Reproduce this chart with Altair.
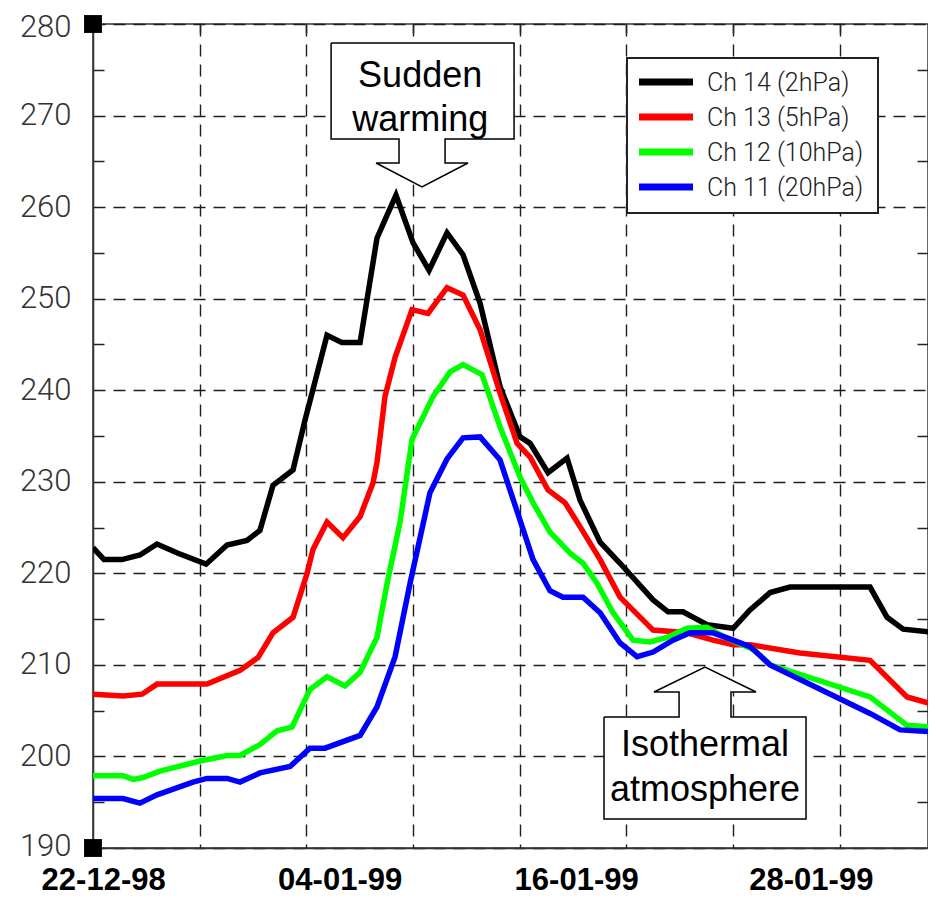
import altair as alt
import pandas as pd

# ---------------- data ----------------
series_names = ["Ch 14 (2hPa)", "Ch 13 (5hPa)", "Ch 12 (10hPa)", "Ch 11 (20hPa)"]
series_colors = ["#000000", "#ff0000", "#00ff00", "#0000ff"]

# x = days since 22-12-98, y = brightness temperature (K)
ch14_day = [0.00, 0.62, 1.63, 2.64, 3.60, 4.78, 6.36, 7.54, 8.66, 9.39,
            10.12, 11.25, 11.92, 13.16, 14.00, 15.02, 15.97, 16.42, 17.04, 18.00,
            18.90, 19.91, 20.81, 21.77, 22.89, 24.02, 24.58, 25.59, 26.66, 27.39,
            28.52, 29.64, 31.50, 32.34, 33.18, 34.53, 36.00, 36.95, 38.08, 39.20,
            43.70, 44.66, 45.56, 47.08, 47.41]
ch14_temp = [222.8, 221.5, 221.5, 222.0, 223.2, 222.2, 221.0, 223.1, 223.6, 224.7,
             229.6, 231.3, 236.7, 246.0, 245.2, 245.2, 256.6, 258.6, 261.3, 256.1,
             253.1, 257.2, 254.8, 249.5, 240.4, 234.9, 234.2, 231.0, 232.6, 228.0,
             223.4, 221.1, 217.1, 215.8, 215.8, 214.4, 214.0, 216.0, 217.9, 218.5,
             218.5, 215.2, 213.9, 213.6, 213.3]

ch13_day = [0.00, 1.69, 2.76, 3.60, 6.41, 8.27, 9.28, 10.12, 11.25, 12.04,
            12.37, 13.16, 14.06, 15.02, 15.75, 15.97, 16.42, 16.99, 17.94, 18.84,
            19.91, 20.81, 21.77, 22.89, 23.85, 24.58, 25.59, 26.55, 27.39, 28.52,
            29.64, 31.50, 33.41, 34.87, 36.00, 36.95, 39.76, 43.70, 45.78, 47.41]
ch13_temp = [206.8, 206.6, 206.8, 207.9, 207.9, 209.4, 210.8, 213.5, 215.2, 220.0,
             222.6, 225.6, 223.9, 226.2, 229.9, 232.1, 239.3, 243.6, 248.8, 248.4,
             251.2, 250.4, 246.6, 239.7, 234.2, 232.7, 229.1, 227.7, 225.1, 221.5,
             217.4, 213.8, 213.5, 212.7, 212.2, 212.2, 211.3, 210.5, 206.5, 205.6]

ch12_day = [0.00, 1.69, 2.25, 2.81, 3.77, 6.02, 7.54, 8.27, 9.39, 10.35,
            11.19, 12.20, 13.16, 14.17, 15.02, 15.97, 16.54, 17.27, 17.94, 19.12,
            20.08, 20.81, 21.88, 22.89, 24.02, 24.75, 25.70, 26.83, 27.56, 28.35,
            29.25, 30.37, 31.33, 32.28, 33.41, 34.53, 35.66, 37.23, 38.08, 43.70,
            45.78, 47.41]
ch12_temp = [197.9, 197.9, 197.5, 197.7, 198.4, 199.5, 200.1, 200.1, 201.3, 202.8,
             203.2, 207.3, 208.7, 207.7, 209.2, 213.0, 218.9, 225.6, 234.6, 239.3,
             242.0, 242.8, 241.7, 236.0, 230.5, 227.7, 224.5, 222.2, 221.1, 218.9,
             215.7, 212.7, 212.5, 213.0, 214.0, 214.1, 212.9, 211.6, 210.0, 206.5,
             203.4, 203.2]

ch11_day = [0.00, 1.69, 2.64, 3.60, 5.62, 6.41, 7.54, 8.27, 9.39, 11.08,
            12.20, 13.05, 15.02, 15.97, 16.99, 17.83, 18.95, 19.91, 20.81, 21.77,
            22.89, 24.75, 25.70, 26.43, 27.56, 28.52, 29.64, 30.60, 31.50, 32.62,
            33.58, 34.87, 36.00, 36.95, 38.08, 43.70, 45.39, 47.24, 47.41]
ch11_temp = [195.4, 195.4, 194.9, 195.8, 197.2, 197.6, 197.6, 197.2, 198.2, 198.9,
             200.9, 200.9, 202.3, 205.4, 210.9, 218.9, 228.8, 232.5, 234.8, 234.9,
             232.4, 221.5, 218.1, 217.4, 217.4, 215.7, 212.4, 210.9, 211.4, 212.7,
             213.5, 213.5, 212.7, 212.0, 210.0, 204.7, 202.9, 202.7, 203.0]

x_label_pos = [0.6, 13.9, 27.2, 40.4]
x_label_text = ["22-12-98", "04-01-99", "16-01-99", "28-01-99"]
x_grid_values = [6, 12, 18, 24, 30, 36, 42]
y_tick_values = list(range(190, 281, 5))
y_minor_values = list(range(195, 280, 10))

# annotation callouts (outline polygons in data units) and their texts
warm_day = [13.39, 23.68, 23.68, 19.80, 19.80, 21.09, 18.50, 15.92, 17.21, 17.21, 13.39, 13.39]
warm_temp = [277.92, 277.92, 267.44, 267.44, 264.82, 264.82, 262.20, 264.82, 264.82, 267.44, 267.44, 277.92]
iso_day = [28.74, 32.96, 32.96, 31.55, 34.42, 37.29, 35.88, 35.88, 40.10, 40.10, 28.74, 28.74]
iso_temp = [204.31, 204.31, 207.04, 207.04, 209.77, 207.04, 207.04, 204.31, 204.31, 193.17, 193.17, 204.31]
note_text = ["Sudden", "warming", "Isothermal", "atmosphere"]
note_day = [18.4, 18.4, 34.42, 34.42]
note_temp = [273.1, 268.3, 200.05, 195.14]

corner_day = [0, 0]
corner_temp = [280, 190]

# ---------------- tables ----------------
rows = []
for name, days, temps in zip(series_names,
                             [ch14_day, ch13_day, ch12_day, ch11_day],
                             [ch14_temp, ch13_temp, ch12_temp, ch11_temp]):
    for d, t in zip(days, temps):
        rows.append({"series": name, "day": d, "temp": t})
df = pd.DataFrame(rows)

poly_rows = []
for key, days, temps in [("warm", warm_day, warm_temp), ("iso", iso_day, iso_temp)]:
    for i, (d, t) in enumerate(zip(days, temps)):
        poly_rows.append({"shape": key, "i": i, "day": d, "temp": t})
poly_df = pd.DataFrame(poly_rows)

notes_df = pd.DataFrame({"text": note_text, "day": note_day, "temp": note_temp})
xlab_df = pd.DataFrame({"pos": x_label_pos, "label": x_label_text})
legend_df = pd.DataFrame({"name": series_names, "color": series_colors,
                          "row": list(range(len(series_names)))})
corner_df = pd.DataFrame({"day": corner_day, "temp": corner_temp})
box_df = pd.DataFrame({"a": [0]})

# ---------------- chart ----------------
W, H = 835, 824
THIN = "Roboto, Liberation Sans, sans-serif"
SANS = "Liberation Sans, Arial, sans-serif"
GRID = "#1e1e1e"

xscale = alt.Scale(domain=[0, 46.96], nice=False, zero=False)
yscale = alt.Scale(domain=[190, 280], nice=False, zero=False)

x_axis = alt.Axis(values=x_grid_values, grid=True, gridDash=[12, 8], gridColor=GRID,
                  gridWidth=1.4, labels=False, ticks=False, domainColor="#333",
                  domainWidth=1.5, title=None)
y_axis = alt.Axis(values=y_tick_values, title=None, grid=True, gridDash=[12, 8],
                  gridColor=GRID, gridWidth=1.4,
                  gridOpacity={"condition": {"test": "datum.value % 10 == 0", "value": 1}, "value": 0},
                  tickOpacity={"condition": {"test": "datum.value % 10 == 0", "value": 0}, "value": 1},
                  tickSize={"expr": "-11"}, tickColor="#222", tickWidth=1.5,
                  labelExpr="datum.value % 10 == 0 ? datum.label : ''",
                  labelOffset={"condition": [{"test": "datum.value == 280", "value": 3},
                                             {"test": "datum.value == 190", "value": -2}],
                               "value": 0},
                  labelFont=THIN, labelFontWeight=300, labelFontSize=31, labelColor="#333",
                  labelPadding=33, labelOverlap=False, domainColor="#333", domainWidth=1.5)

lines = alt.Chart(df).mark_line(strokeWidth=5.5, clip=True).encode(
    x=alt.X("day:Q", scale=xscale, axis=x_axis),
    y=alt.Y("temp:Q", scale=yscale, axis=y_axis),
    color=alt.Color("series:N", scale=alt.Scale(domain=series_names, range=series_colors),
                    legend=None),
)

callouts = alt.Chart(poly_df).mark_line(fill="white", stroke="black", strokeWidth=1.5,
                                        strokeJoin="miter").encode(
    x=alt.X("day:Q", scale=xscale, axis=None),
    y=alt.Y("temp:Q", scale=yscale, axis=None),
    detail="shape:N",
    order="i:Q",
)

notes = alt.Chart(notes_df).mark_text(font=SANS, fontSize=36, color="black",
                                      align="center", baseline="alphabetic").encode(
    x=alt.X("day:Q", scale=xscale, axis=None),
    y=alt.Y("temp:Q", scale=yscale, axis=None),
    text="text:N",
)

legend_box = alt.Chart(box_df).mark_rect(fill="white", stroke="#222", strokeWidth=2).encode(
    x=alt.value(534), x2=alt.value(785), y=alt.value(34), y2=alt.value(189))

legend_sym = alt.Chart(legend_df).transform_calculate(
    py="58 + 35 * datum.row").mark_rule(strokeWidth=7).encode(
    x=alt.value(546), x2=alt.value(600),
    y=alt.Y("py:Q", scale=None, axis=None),
    color=alt.Color("color:N", scale=None, legend=None),
)

legend_lab = alt.Chart(legend_df).transform_calculate(
    py="59 + 35 * datum.row").mark_text(font=THIN, fontWeight=300, fontSize=25,
                                         color="#222", align="left",
                                         baseline="middle").encode(
    x=alt.value(614),
    y=alt.Y("py:Q", scale=None, axis=None),
    text="name:N",
)

corners = alt.Chart(corner_df).mark_square(size=320, color="black", opacity=1,
                                           clip=False).encode(
    x=alt.X("day:Q", scale=xscale,
            axis=alt.Axis(orient="top", values=x_grid_values, labels=False, grid=False,
                          domain=False, tickSize={"expr": "-9"}, tickColor="#222",
                          tickWidth=1.5, title=None)),
    y=alt.Y("temp:Q", scale=yscale,
            axis=alt.Axis(orient="right", values=y_minor_values, labels=False, grid=False,
                          domain=False, tickSize={"expr": "-11"}, tickColor="#222",
                          tickWidth=1.5, title=None)),
)

xlabels = alt.Chart(xlab_df).mark_text(font=SANS, fontWeight="bold", fontSize=31,
                                       color="black", align="center",
                                       baseline="alphabetic").encode(
    x=alt.X("pos:Q", scale=xscale, axis=None),
    y=alt.value(866),
    text="label:N",
)

chart = alt.layer(lines, callouts, notes, legend_box, legend_sym, legend_lab,
                  corners, xlabels).resolve_axis(
    x="independent", y="independent"
).properties(
    width=W, height=H,
    padding={"left": 85, "top": 16, "right": 0, "bottom": 50},
    autosize=alt.AutoSizeParams(type="none"),
    background="white",
).configure_view(stroke="#333", strokeWidth=1.5)

chart.save("out.html", embed_options={"renderer": "svg", "actions": False})
